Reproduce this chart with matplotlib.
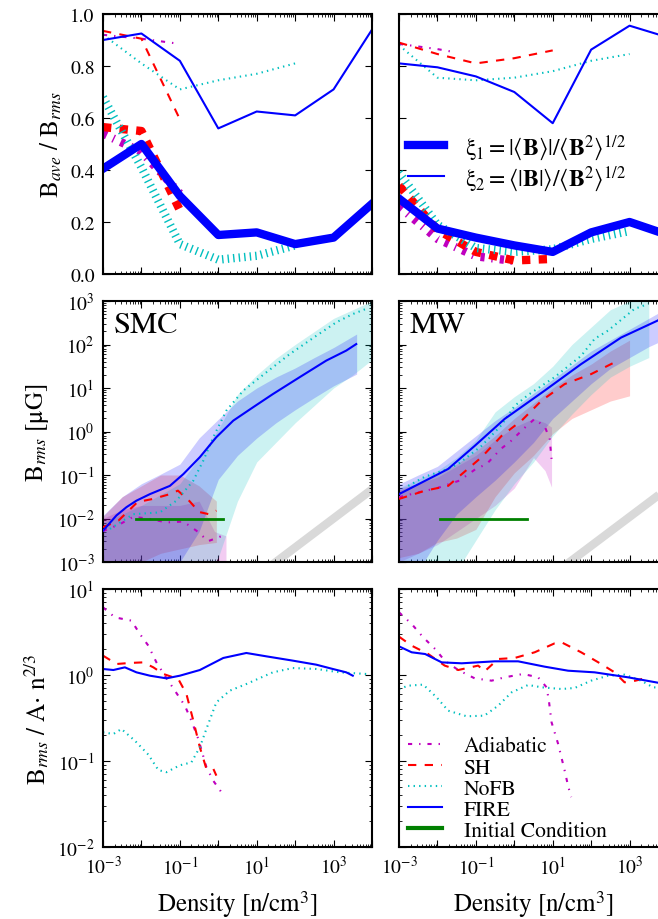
import matplotlib
matplotlib.use('Agg')
import matplotlib.pyplot as plt
import numpy as np
from matplotlib.lines import Line2D
from matplotlib.ticker import FixedLocator, FuncFormatter, LogLocator, NullFormatter, MultipleLocator

plt.rcParams['font.family'] = ['STIXGeneral', 'DejaVu Serif']
plt.rcParams['mathtext.fontset'] = 'stix'
plt.rcParams['font.size'] = 14
plt.rcParams['axes.linewidth'] = 1.5
plt.rcParams['xtick.direction'] = 'in'
plt.rcParams['ytick.direction'] = 'in'
plt.rcParams['xtick.top'] = True
plt.rcParams['ytick.right'] = True
plt.rcParams['xtick.major.size'] = 5
plt.rcParams['ytick.major.size'] = 5
plt.rcParams['xtick.minor.size'] = 2.5
plt.rcParams['ytick.minor.size'] = 2.5
plt.rcParams['xtick.major.pad'] = 6
plt.rcParams['ytick.major.pad'] = 6
plt.rcParams['lines.scale_dashes'] = False
plt.rcParams['lines.dashed_pattern'] = [6, 6]
plt.rcParams['lines.dashdot_pattern'] = [3, 5, 1, 5]
plt.rcParams['lines.dotted_pattern'] = [1, 3]

# colours / styles of the four runs
runs = ['Adiabatic', 'SH', 'NoFB', 'FIRE']
colors = {'Adiabatic': (0.75, 0, 0.75), 'SH': 'r', 'NoFB': (0, 0.75, 0.75), 'FIRE': 'b'}
styles = {'Adiabatic': '-.', 'SH': '--', 'NoFB': ':', 'FIRE': '-'}

# ---------------- top row: xi1 (thick) and xi2 (thin), x = log10 n ----------------
smc_xi1_x = {'FIRE': [-3, -2, -1, 0, 1, 2, 3, 4], 'NoFB': [-3, -2, -1, 0, 1, 2],
             'SH': [-3, -2, -1], 'Adiabatic': [-3, -2, -1]}
smc_xi2_x = smc_xi1_x
smc_xi1 = {'FIRE': [0.405, 0.50, 0.30, 0.15, 0.16, 0.115, 0.14, 0.27],
           'NoFB': [0.68, 0.41, 0.115, 0.055, 0.07, 0.11],
           'SH': [0.565, 0.55, 0.245],
           'Adiabatic': [0.54, 0.47, 0.31]}
smc_xi2 = {'FIRE': [0.90, 0.925, 0.82, 0.56, 0.625, 0.61, 0.71, 0.94],
           'NoFB': [0.92, 0.81, 0.71, 0.745, 0.77, 0.81],
           'SH': [0.935, 0.905, 0.595],
           'Adiabatic': [0.92, 0.905, 0.885]}

mw_xi1_x = {'FIRE': [-3, -2, -1, 0, 1, 2, 3, 4], 'NoFB': [-3, -2, -1, 0, 1, 2, 3],
            'SH': [-3, -2, -1, 0, 1], 'Adiabatic': [-3, -2, -1, 0]}
mw_xi2_x = {'FIRE': [-3, -2, -1, 0, 1, 2, 3, 4], 'NoFB': [-3, -2, -1, 0, 1, 2, 3],
            'SH': [-3, -2, -1, 0, 1], 'Adiabatic': [-3, -2, -1.5]}
mw_xi1 = {'FIRE': [0.29, 0.175, 0.14, 0.11, 0.085, 0.16, 0.20, 0.15],
          'NoFB': [0.39, 0.19, 0.10, 0.085, 0.095, 0.135, 0.165],
          'SH': [0.34, 0.17, 0.085, 0.052, 0.058],
          'Adiabatic': [0.26, 0.135, 0.068, 0.05]}
mw_xi2 = {'FIRE': [0.81, 0.795, 0.76, 0.70, 0.58, 0.863, 0.955, 0.91],
          'NoFB': [0.88, 0.755, 0.745, 0.755, 0.78, 0.82, 0.846],
          'SH': [0.89, 0.846, 0.81, 0.83, 0.86],
          'Adiabatic': [0.885, 0.865, 0.852]}

# ---------------- middle row: B_rms [muG], log10 values ----------------
smc_b_x = {'Adiabatic': [-3, -2.56, -2.21, -1.78, -1.35, -0.91, -0.57, -0.26, 0.13],
           'SH': [-3, -2.6, -2.1, -1.7, -1.3, -1.05, -0.75, -0.5, -0.25, -0.05],
           'NoFB': [-2.82, -2.21, -1.52, -1.09, -0.65, -0.39, -0.13, 0.21, 0.65, 1.25, 1.86, 2.55, 3.07, 3.5, 3.85],
           'FIRE': [-3, -2.65, -2.39, -2.13, -1.78, -1.26, -0.91, -0.48, -0.05, 0.39, 0.91, 1.42, 2.12, 2.81, 3.33, 3.59]}
smc_b_y = {'Adiabatic': [-2.29, -2.13, -1.96, -2.01, -2.09, -2.07, -2.28, -2.52, -2.39],
           'SH': [-2.2, -2.05, -1.62, -1.55, -1.45, -1.36, -1.6, -1.85, -1.9, -1.82],
           'NoFB': [-2.24, -1.9, -1.86, -1.59, -1.13, -0.67, -0.13, 0.48, 0.94, 1.36, 1.78, 2.2, 2.51, 2.70, 2.82],
           'FIRE': [-2.28, -1.93, -1.74, -1.59, -1.44, -1.25, -0.98, -0.59, -0.13, 0.25, 0.56, 0.86, 1.25, 1.63, 1.86, 2.01]}

mw_b_x = {'Adiabatic': [-3, -2.5, -2.0, -1.43, -1.0, -0.72, -0.35, -0.10, 0.25, 0.53, 0.8, 0.92, 0.97],
          'SH': [-3, -2.32, -1.72, -1.46, -0.85, -0.33, 0.19, 0.71, 1.31, 2.0, 2.7],
          'NoFB': [-2.76, -2.33, -1.72, -1.45, -0.85, -0.33, 0.01, 0.36, 1.05, 1.74, 2.09, 2.44, 3.13, 3.48],
          'FIRE': [-3, -2.58, -1.98, -1.72, -1.03, -0.25, 0.79, 1.74, 2.78, 3.73, 4.0]}
mw_b_y = {'Adiabatic': [-1.51, -1.40, -1.30, -1.13, -0.86, -0.75, -0.40, -0.23, 0.07, 0.29, 0.1, -0.17, -0.63],
          'SH': [-1.55, -1.36, -1.25, -1.05, -0.59, -0.10, 0.25, 0.71, 1.09, 1.32, 1.63],
          'NoFB': [-1.25, -1.04, -0.86, -0.74, -0.33, 0.15, 0.59, 0.84, 1.25, 1.74, 2.13, 2.32, 2.82, 2.93],
          'FIRE': [-1.44, -1.25, -0.98, -0.86, -0.33, 0.29, 0.94, 1.55, 2.16, 2.55, 2.7]}

# scatter bands (log10 lower / upper)
smc_band_x = {'Adiabatic': [-3, -2.5, -2, -1.5, -1, -0.5, -0.1, 0.2],
              'SH': [-3, -2.5, -2, -1.5, -1, -0.5, -0.05],
              'NoFB': [-3, -2, -1, -0.5, 0, 0.5, 1, 1.5, 2, 2.5, 3, 3.5, 4],
              'FIRE': [-3, -2.5, -2, -1.5, -1, -0.5, 0, 0.5, 1, 1.5, 2, 2.5, 3, 3.6]}
smc_band_lo = {'Adiabatic': [-3.6, -3.6, -3.6, -3.6, -3.6, -3.6, -3.6, -3.6],
               'SH': [-3.6, -3.3, -3.0, -2.8, -2.7, -2.6, -2.55],
               'NoFB': [-3.6, -3.6, -3.5, -3.4, -2.9, -1.6, -0.7, -0.25, 0.2, 0.6, 1.0, 1.3, 1.65],
               'FIRE': [-3.6, -3.5, -3.4, -3.3, -3.0, -2.3, -1.1, -0.55, -0.15, 0.2, 0.5, 0.78, 1.05, 1.32]}
smc_band_hi = {'Adiabatic': [-2.0, -1.8, -1.7, -1.7, -1.7, -1.6, -2.3, -2.4],
               'SH': [-1.95, -1.5, -1.25, -1.0, -1.0, -1.25, -1.6],
               'NoFB': [-2.1, -1.7, -1.2, -0.6, 0.05, 0.85, 1.3, 1.68, 2.0, 2.3, 2.6, 2.8, 3.0],
               'FIRE': [-1.93, -1.5, -1.2, -0.98, -0.75, -0.15, 0.28, 0.7, 1.0, 1.25, 1.46, 1.7, 1.93, 2.24]}

mw_band_x = {'Adiabatic': [-3, -2.5, -2, -1.5, -1, -0.5, 0, 0.5, 0.8, 0.97],
             'SH': [-3, -2.5, -2, -1.5, -1, -0.5, 0, 0.5, 1, 1.5, 2, 2.5, 3],
             'NoFB': [-3, -2.5, -2, -1.5, -1, -0.5, 0, 0.5, 1, 1.5, 2, 2.5, 3, 3.5],
             'FIRE': [-3, -2.5, -2, -1.5, -1, -0.5, 0, 0.5, 1, 1.5, 2, 2.5, 3, 3.5, 4]}
mw_band_lo = {'Adiabatic': [-3.0, -2.8, -2.6, -2.3, -2.0, -1.7, -1.3, -0.6, -0.9, -1.28],
              'SH': [-2.9, -2.8, -2.55, -2.45, -2.25, -1.5, -0.95, -0.55, -0.05, 0.3, 0.5, 0.7, 0.82],
              'NoFB': [-3.6, -3.6, -3.5, -3.2, -2.5, -1.8, -1.2, -0.7, -0.1, 0.4, 0.85, 1.25, 1.5, 1.7],
              'FIRE': [-3.3, -3.2, -2.5, -1.9, -1.5, -1.12, -0.7, -0.25, 0.3, 0.7, 1.1, 1.45, 1.7, 1.95, 2.15]}
mw_band_hi = {'Adiabatic': [-1.3, -1.2, -1.05, -0.8, -0.55, -0.2, 0.1, 0.3, 0.2, 0.1],
              'SH': [-1.35, -1.2, -1.0, -0.75, -0.45, -0.1, 0.3, 0.65, 1.0, 1.3, 1.55, 1.85, 2.1],
              'NoFB': [-1.3, -1.1, -0.9, -0.6, -0.2, 0.45, 0.8, 1.1, 1.5, 2.0, 2.4, 2.8, 3.0, 3.1],
              'FIRE': [-1.21, -1.0, -0.8, -0.45, -0.1, 0.25, 0.55, 0.88, 1.2, 1.52, 1.85, 2.1, 2.35, 2.6, 2.85]}

# initial condition and n^(2/3) guide (log10)
smc_ic_x = [-2.13, 0.13]
mw_ic_x = [-1.94, 0.32]
ic_y = [-2.0, -2.0]
smc_guide_x = [1.2, 4.3]
smc_guide_y = [-3.2, -1.13]
mw_guide_x = [1.14, 4.3]
mw_guide_y = [-3.2, -1.1]

# ---------------- bottom row: B_rms / A n^(2/3), log10 values ----------------
smc_r_x = {'Adiabatic': [-3, -2.69, -2.26, -2.04, -1.82, -1.61, -1.39, -1.13, -0.87, -0.70, -0.52, -0.31, -0.13, 0.14],
           'SH': [-3, -2.645, -2.3, -1.95, -1.69, -1.43, -1.04, -0.83, -0.65, -0.48, -0.31, -0.13, -0.05],
           'NoFB': [-3, -2.73, -2.52, -2.17, -1.82, -1.56, -1.35, -1.0, -0.70, -0.48, -0.31, -0.05, 0.30, 0.73, 1.42, 1.94, 2.55, 3.16, 3.85],
           'FIRE': [-3, -2.73, -2.43, -2.13, -1.78, -1.35, -1.0, -0.48, 0.13, 0.73, 1.25, 1.94, 2.55, 2.98, 3.33, 3.5]}
smc_r_y = {'Adiabatic': [0.787, 0.67, 0.632, 0.477, 0.341, 0.147, -0.008, -0.182, -0.357, -0.53, -0.744, -1.07, -1.23, -1.40],
           'SH': [0.225, 0.128, 0.14, 0.147, 0.089, 0.012, -0.047, -0.22, -0.53, -0.84, -1.09, -1.09, -1.17],
           'NoFB': [-0.667, -0.686, -0.628, -0.764, -0.926, -1.105, -1.13, -1.05, -1.016, -0.84, -0.628, -0.318, -0.182, -0.105, 0.031, 0.081, 0.07, 0.031, 0.012],
           'FIRE': [0.07, 0.058, 0.089, 0.031, -0.008, -0.039, -0.008, 0.058, 0.198, 0.256, 0.217, 0.167, 0.12, 0.07, 0.031, -0.008]}

mw_r_x = {'Adiabatic': [-3, -2.67, -2.37, -2.06, -1.81, -1.46, -1.03, -0.59, -0.25, 0.23, 0.62, 0.84, 0.90, 0.97, 1.14, 1.31, 1.40, 1.48],
          'SH': [-3, -2.67, -2.24, -1.81, -1.46, -0.94, -0.77, -0.42, 0.01, 0.53, 1.05, 1.23, 1.74, 2.26, 2.61, 2.87, 3.04, 3.39],
          'NoFB': [-3, -2.76, -2.37, -2.02, -1.72, -1.24, -0.78, -0.42, -0.07, 0.36, 0.71, 1.23, 1.57, 2.0, 2.44, 2.87, 3.30, 3.61, 3.9],
          'FIRE': [-3, -2.67, -2.32, -1.89, -1.37, -0.51, 0.10, 0.79, 1.40, 2.09, 2.96, 3.73, 4.0]}
mw_r_y = {'Adiabatic': [0.729, 0.593, 0.438, 0.302, 0.167, 0.058, -0.039, -0.066, -0.027, 0.012, -0.027, -0.143, -0.298, -0.55, -0.80, -1.11, -1.29, -1.42],
          'SH': [0.446, 0.341, 0.244, 0.109, 0.058, 0.109, 0.043, 0.186, 0.198, 0.264, 0.368, 0.38, 0.264, 0.128, 0.031, -0.085, -0.078, -0.04],
          'NoFB': [-0.163, -0.124, -0.112, -0.26, -0.415, -0.48, -0.473, -0.357, -0.202, -0.116, -0.143, -0.163, -0.151, -0.066, -0.008, 0.004, -0.066, -0.143, -0.15],
          'FIRE': [0.333, 0.264, 0.244, 0.147, 0.136, 0.159, 0.159, 0.097, 0.05, 0.031, -0.027, -0.089, -0.11]}


def p10(v):
    return 10.0 ** np.asarray(v)


def xfmt(v, pos):
    e = int(round(np.log10(v)))
    if e % 2 == 0:
        return ''
    return r'$10^{%d}$' % e


def yfmt(v, pos):
    e = int(round(np.log10(v)))
    return r'$10^{%d}$' % e


def setup_x(ax):
    ax.set_xscale('log')
    ax.set_xlim(1e-3, 1e4)
    ax.xaxis.set_major_locator(FixedLocator(p10(np.arange(-3, 5))))
    ax.xaxis.set_major_formatter(FuncFormatter(xfmt))
    ax.xaxis.set_minor_locator(LogLocator(base=10, subs=np.arange(2, 10), numticks=30))
    ax.xaxis.set_minor_formatter(NullFormatter())


def setup_logy(ax, lo, hi):
    ax.set_yscale('log')
    ax.set_ylim(10.0 ** lo, 10.0 ** hi)
    ax.yaxis.set_major_locator(FixedLocator(p10(np.arange(lo, hi + 1))))
    ax.yaxis.set_major_formatter(FuncFormatter(yfmt))
    ax.yaxis.set_minor_locator(LogLocator(base=10, subs=np.arange(2, 10), numticks=30))
    ax.yaxis.set_minor_formatter(NullFormatter())


fig = plt.figure(figsize=(6.58, 9.2), dpi=100)
lefts = [103 / 658, 399 / 658]
w = 269 / 658
rows = [(1 - 275 / 920, 260 / 920), (1 - 563 / 920, 261 / 920), (1 - 848 / 920, 258 / 920)]
axes = [[fig.add_axes([l, b, w, h]) for l in lefts] for (b, h) in rows]

# top row
top = [(axes[0][0], smc_xi1_x, smc_xi1, smc_xi2_x, smc_xi2), (axes[0][1], mw_xi1_x, mw_xi1, mw_xi2_x, mw_xi2)]
for ax, x1, xi1, x2, xi2 in top:
    for r in runs:
        ax.plot(p10(x1[r]), xi1[r], color=colors[r], ls=styles[r], lw=6)
        ax.plot(p10(x2[r]), xi2[r], color=colors[r], ls=styles[r], lw=1.5)
    setup_x(ax)
    ax.set_ylim(0, 1)
    ax.yaxis.set_major_locator(MultipleLocator(0.2))
    ax.yaxis.set_major_formatter(FuncFormatter(lambda v, p: '%.1f' % v))
    ax.tick_params(labelbottom=False)
axes[0][0].set_ylabel(r'B$_{ave}$ / B$_{rms}$', fontsize=18)
axes[0][1].tick_params(labelleft=False)
xi_handles = [Line2D([], [], color='b', lw=6), Line2D([], [], color='b', lw=1.5)]
xi_labels = [r'ξ$_1 = |\langle\mathbf{B}\rangle| / \langle\mathbf{B}^2\rangle^{1/2}$',
             r'ξ$_2 = \langle|\mathbf{B}|\rangle / \langle\mathbf{B}^2\rangle^{1/2}$']
axes[0][1].legend(xi_handles, xi_labels, loc='center left', bbox_to_anchor=(0.0, 0.43),
                  frameon=False, fontsize=17, handlelength=1.5, handletextpad=0.9, labelspacing=0.05,
                  borderaxespad=0.2, borderpad=0.2)

# middle row
mid = [(axes[1][0], smc_b_x, smc_b_y, smc_band_x, smc_band_lo, smc_band_hi, smc_ic_x, smc_guide_x, smc_guide_y, 'SMC'),
       (axes[1][1], mw_b_x, mw_b_y, mw_band_x, mw_band_lo, mw_band_hi, mw_ic_x, mw_guide_x, mw_guide_y, 'MW')]
for ax, bx, by, fx, flo, fhi, icx, gx, gy, name in mid:
    ax.plot(p10(gx), p10(gy), color='0.85', lw=6, solid_capstyle='butt', zorder=1)
    for r in runs:
        ax.fill_between(p10(fx[r]), p10(flo[r]), p10(fhi[r]), color=colors[r], alpha=0.2, lw=0, zorder=2)
    for r in runs:
        ax.plot(p10(bx[r]), p10(by[r]), color=colors[r], ls=styles[r], lw=1.5, zorder=3)
    ax.plot(p10(icx), p10(ic_y), color=(0, 0.5, 0), lw=2, zorder=4)
    setup_x(ax)
    setup_logy(ax, -3, 3)
    ax.tick_params(labelbottom=False)
    ax.text(0.04, 0.96, name, transform=ax.transAxes, fontsize=22, va='top', ha='left')
axes[1][0].set_ylabel(r'B$_{rms}$ [μG]', fontsize=18)
axes[1][1].tick_params(labelleft=False)

# bottom row
for ax, rx, ry in [(axes[2][0], smc_r_x, smc_r_y), (axes[2][1], mw_r_x, mw_r_y)]:
    for r in runs:
        ax.plot(p10(rx[r]), p10(ry[r]), color=colors[r], ls=styles[r], lw=1.5, label=r)
    setup_x(ax)
    setup_logy(ax, -2, 1)
    ax.set_xlabel(r'Density [n/cm$^3$]', fontsize=18, labelpad=8)
axes[2][0].set_ylabel(r'B$_{rms}$ / A$\cdot$ n$^{2/3}$', fontsize=18)
axes[2][1].tick_params(labelleft=False)
leg_handles = [Line2D([], [], color=colors[r], ls=styles[r], lw=1.5) for r in runs]
leg_handles.append(Line2D([], [], color=(0, 0.5, 0), lw=3))
axes[2][1].legend(leg_handles, runs + ['Initial Condition'], loc='lower left', bbox_to_anchor=(0.0, -0.01),
                  frameon=False, fontsize=15.5, handlelength=1.6, handletextpad=1.0, labelspacing=0.05,
                  borderaxespad=0.2, borderpad=0.2)

fig.savefig('out.png', dpi=100)
